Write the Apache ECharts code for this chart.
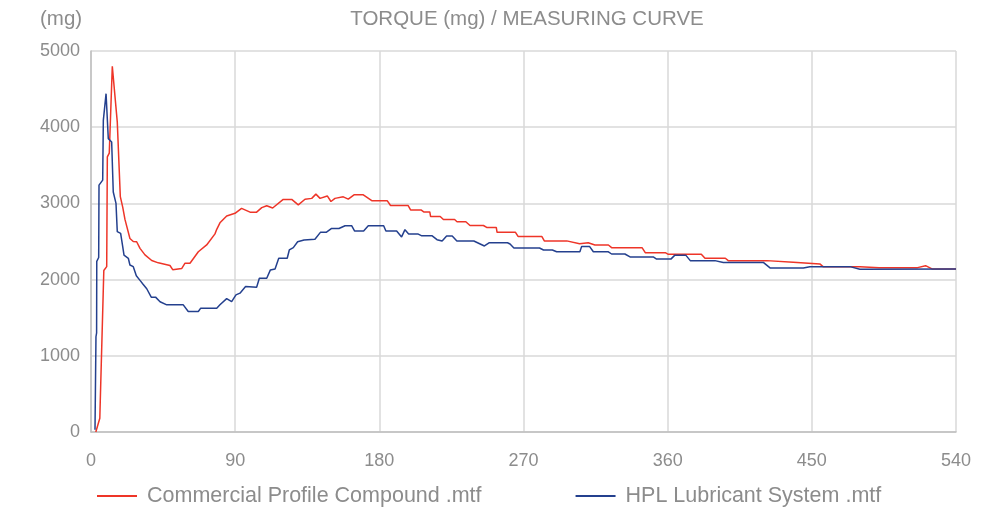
<!DOCTYPE html>
<html>
<head>
<meta charset="utf-8">
<script src="https://cdn.jsdelivr.net/npm/echarts@6/dist/echarts.min.js"></script>
<style>html,body{margin:0;padding:0;background:#fff}#c{width:997px;height:512px}</style>
</head>
<body>
<div id="c"></div>
<script>
const seriesNames = ['Commercial Profile Compound .mtf', 'HPL Lubricant System .mtf'];
const xTicks = [0, 90, 180, 270, 360, 450, 540];
const yTicks = [0, 1000, 2000, 3000, 4000, 5000];

// [angle, torque mg]
const commercial = [[3,0],[5.5,180],[8,2120],[9.8,2170],[10.2,3610],[11.4,3660],[13.3,4800],[16.4,4070],[18.3,3090],[19.8,2950],[21.2,2790],[24.3,2540],[26.4,2500],[28.5,2497],[30.6,2410],[33.7,2325],[37.9,2250],[42,2220],[49.3,2185],[51,2130],[56.6,2145],[58.7,2215],[61.8,2215],[67,2365],[72.2,2455],[77.4,2600],[78.5,2660],[80.5,2745],[84.7,2835],[89.9,2870],[94,2935],[99.3,2885],[103.4,2885],[106.6,2945],[109.7,2970],[113.4,2940],[120,3052],[125.3,3052],[129.4,2980],[133.6,3055],[137.8,3066],[140.4,3122],[143,3066],[147.5,3098],[149.8,3025],[152.3,3066],[157.5,3086],[160.6,3056],[164.2,3113],[170,3113],[175.5,3034],[185,3034],[187,2972],[198,2972],[199.5,2914],[206,2914],[207.7,2888],[211.5,2888],[212,2828],[218,2828],[220,2788],[227,2788],[228.5,2760],[234,2760],[236.6,2710],[245,2710],[247,2684],[253,2684],[253.5,2621],[265,2621],[266.7,2565],[281.5,2565],[283,2508],[297,2508],[305,2470],[310.4,2484],[314.6,2454],[323,2454],[325,2419],[344,2419],[346,2354],[358.5,2354],[360.4,2332],[381,2332],[383.3,2280],[396,2280],[397.8,2249],[421.8,2249],[422.8,2228],[438.4,2228],[439.5,2206],[455,2206],[457,2170],[480,2170],[492,2157],[516,2157],[521,2183],[525,2140],[540,2140]];

const hpl = [[2.5,30],[3.1,1250],[3.5,1300],[3.6,2240],[4.8,2290],[5,3240],[7.3,3305],[7.7,4090],[9.4,4440],[10.8,3850],[12.9,3806],[13.9,3150],[15.6,3000],[16.4,2630],[18.5,2607],[19.8,2432],[20.6,2320],[23.3,2280],[24.3,2192],[26.4,2170],[28.3,2050],[30.6,1990],[32.5,1940],[34.8,1880],[37.6,1770],[40.3,1770],[43.1,1710],[47.3,1669],[57.6,1669],[60.7,1581],[67,1581],[68.5,1625],[78.5,1625],[80.5,1669],[84.7,1750],[87.8,1712],[90.5,1800],[93,1822],[96.5,1909],[103.4,1900],[105.1,2018],[109.7,2018],[112,2127],[114.9,2140],[117.2,2280],[122.5,2280],[123.8,2389],[126.3,2420],[129,2497],[133,2520],[139.8,2530],[143.2,2620],[146.8,2620],[150,2670],[154.8,2670],[158.6,2707],[162.7,2707],[164.6,2637],[170.2,2637],[173.1,2707],[182.7,2707],[184.1,2637],[190.8,2637],[193.9,2560],[196,2655],[198.3,2600],[204,2600],[206.5,2574],[213,2574],[216,2524],[219.2,2506],[222,2572],[225.5,2572],[228.4,2506],[239,2506],[245.6,2441],[248.7,2484],[260,2484],[261.6,2467],[264,2415],[280,2415],[282.5,2389],[288,2389],[290.7,2365],[305.2,2365],[306.3,2436],[311.2,2436],[313.6,2365],[323,2365],[325,2336],[333.3,2336],[336.5,2297],[351,2297],[353.1,2269],[362,2269],[364.5,2321],[371.3,2321],[374.1,2249],[389.5,2249],[394.7,2225],[419.7,2225],[423.9,2153],[444.7,2153],[448.8,2170],[473.8,2170],[480,2136],[540,2140]];

const FONT = '"Liberation Sans", Arial, sans-serif';
const GREY = '#8c8c8c';
const chart = echarts.init(document.getElementById('c'), null, {renderer: 'canvas'});
chart.setOption({
  animation: false,
  backgroundColor: '#fff',
  title: [
    {text: 'TORQUE (mg) / MEASURING CURVE', left: 522, top: 4, textAlign: 'center',
     textStyle: {fontFamily: FONT, fontSize: 20.5, fontWeight: 'normal', color: GREY}},
    {text: '(mg)', left: 35, top: 4,
     textStyle: {fontFamily: FONT, fontSize: 20.5, fontWeight: 'normal', color: GREY}}
  ],
  legend: {
    bottom: 0, left: 92,
    itemWidth: 40, itemHeight: 2, itemGap: 94, icon: 'rect',
    textStyle: {fontFamily: FONT, fontSize: 21.5, color: GREY, padding: [0, 0, 0, 5]},
    data: seriesNames
  },
  grid: {left: 91, right: 41, top: 51, bottom: 80, containLabel: false},
  xAxis: {
    type: 'value', min: xTicks[0], max: xTicks[xTicks.length - 1], interval: 90,
    axisLine: {show: true, lineStyle: {color: '#bfbfbf', width: 1.5}},
    axisTick: {show: false},
    axisLabel: {fontFamily: FONT, fontSize: 18, color: GREY, margin: 20},
    splitLine: {show: true, lineStyle: {color: '#d9d9d9', width: 1.5}}
  },
  yAxis: {
    type: 'value', min: yTicks[0], max: yTicks[yTicks.length - 1], interval: 1000,
    axisLine: {show: true, lineStyle: {color: '#bfbfbf', width: 1.5}},
    axisTick: {show: false},
    axisLabel: {fontFamily: FONT, fontSize: 18, color: GREY, margin: 11, formatter: v => String(v)},
    splitLine: {show: true, lineStyle: {color: '#d9d9d9', width: 1.5}}
  },
  series: [
    {name: seriesNames[0], type: 'line', data: commercial, showSymbol: false, symbol: 'none',
     lineStyle: {color: '#ee3528', width: 1.5}, itemStyle: {color: '#ee3528'}, z: 2},
    {name: seriesNames[1], type: 'line', data: hpl, showSymbol: false, symbol: 'none',
     lineStyle: {color: '#24408e', width: 1.5}, itemStyle: {color: '#24408e'}, z: 3}
  ]
});
</script>
</body>
</html>
